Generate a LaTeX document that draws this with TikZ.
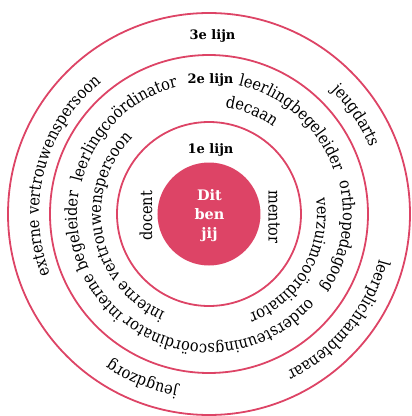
\documentclass[tikz,border=0pt]{standalone}
\usepackage{fontspec}
\setmainfont{DejaVu Serif}
\newfontfamily\smalletter[FakeStretch=0.88]{DejaVu Serif}
\usetikzlibrary{decorations.text}
\definecolor{lijnrood}{RGB}{221,68,102}

\begin{document}
\begin{tikzpicture}[
    x=1pt,y=1pt,ring/.style={lijnrood, line width=1.8pt},
    kop/.style={font=\bfseries\fontsize{13}{15}\selectfont, anchor=base},
    naam/.style={font=\smalletter\fontsize{16.5}{19}\selectfont},
    boog/.style={decorate, decoration={text along path, text align=center,
      text={|\smalletter\fontsize{16.5}{19}\selectfont|#1}}}
    ]
    \useasboundingbox (-209,-202) rectangle (203,214);
    \draw[ring] (0,0) circle[radius=201];
    \draw[ring] (0,0) circle[radius=159];
    \draw[ring] (0,0) circle[radius=92];
    \fill[lijnrood] (0,0) circle[radius=51.5];
    \node[font=\bfseries\fontsize{14.5}{19}\selectfont, text=white, align=center] (jij) at (0.5,-1.5) {Dit\\ben\\jij};
    \node[kop] (lijn1) at (1.5,61) {1e lijn};
    \node[kop] (lijn2) at (1.5,131) {2e lijn};
    \node[kop] (lijn3) at (3.5,175) {3e lijn};
    \node[naam, rotate=90] (docent) at (-63,-2) {docent};
    \node[naam, rotate=-90] (mentor) at (65,-3) {mentor};
    \path[boog={externe vertrouwenspersoon}] (255:170) arc[start angle=255, end angle=75, radius=170];
    \path[boog={leerlingcoördinator}] (225:131) arc[start angle=225, end angle=45, radius=131];
    \path[boog={interne begeleider}] (290:132) arc[start angle=290, end angle=110, radius=132];
    \path[boog={interne vertrouwenspersoon}] (280.5:108) arc[start angle=280.5, end angle=100.5, radius=108];
    \path[boog={leerlingbegeleider}] (137.8:132) arc[start angle=137.8, end angle=-42.2, radius=132];
    \path[boog={decaan}] (157.4:108) arc[start angle=157.4, end angle=-22.6, radius=108];
    \path[boog={jeugdarts}] (123.9:174) arc[start angle=123.9, end angle=-56.1, radius=174];
    \path[boog={orthopedagoog}] (80.1:134) arc[start angle=80.1, end angle=-99.9, radius=134];
    \path[boog={verzuimcoördinator}] (60:108) arc[start angle=60, end angle=-120, radius=108];
    \path[boog={ondersteuningscoördinator}] (5.5:130) arc[start angle=5.5, end angle=-174.5, radius=130];
    \path[boog={leerplichtambtenaar}] (50.7:176) arc[start angle=50.7, end angle=-129.3, radius=176];
    \path[boog={jeugdzorg}] (-22.1:176) arc[start angle=-22.1, end angle=-202.1, radius=176];
  \end{tikzpicture}
\end{document}
